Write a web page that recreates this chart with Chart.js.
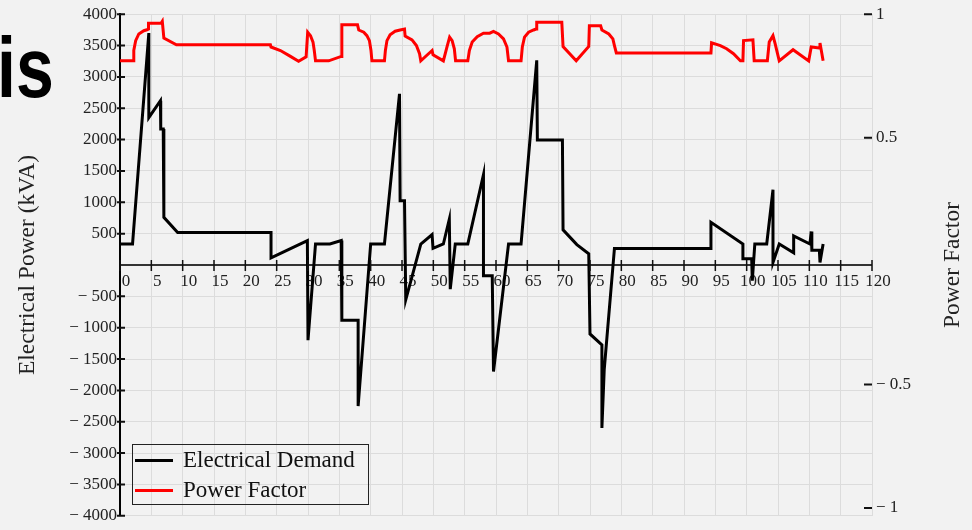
<!DOCTYPE html>
<html lang="en">
<head>
  <meta charset="UTF-8">
  <title>Electrical Demand and Power Factor</title>
  <script src="https://cdn.jsdelivr.net/npm/chart.js"></script>
  <style>
    body { margin: 0; background: #f2f2f2; }
    #wrap { position: relative; width: 972px; height: 530px; overflow: hidden; }
    #slideText { position: absolute; left: -3px; top: 25px; font: bold 85px "Liberation Sans", Arial, sans-serif; line-height: 1; color: #000; transform: scaleX(0.8); transform-origin: left top; }
    #legend { position: absolute; left: 132px; top: 444px; width: 235px; height: 59px; border: 1px solid #222; font: 23px "Liberation Serif", "Times New Roman", serif; color: #111; }
    #legend .row { height: 30px; display: flex; align-items: center; }
    #legend .swatch { width: 38px; height: 3px; margin-left: 2px; margin-right: 10px; }
  </style>
</head>
<body>
  <div id="wrap">
    <canvas id="chart"></canvas>
    <div id="slideText">is</div>
    <div id="legend"></div>
  </div>

  <script>
    // time axis (x) and values
    const demandTime = [0, 2.0, 4.6, 4.6, 6.45, 6.5, 6.9, 7.0, 9.2, 24.1, 24.1, 29.9, 30.0, 31.2, 33.5, 35.3, 35.4, 38.0, 38.0, 40.0,
      42.2, 44.6, 44.7, 45.4, 45.6, 48.0, 49.8, 49.95, 51.6, 52.55, 52.7, 53.5, 55.5, 58.0, 58.0, 59.4, 59.6, 62.0, 64.0, 66.5,
      66.6, 70.6, 70.7, 72.9, 74.8, 75.0, 76.9, 76.9, 77.27, 78.9, 94.3, 94.3, 99.4, 99.4, 100.8, 100.9, 101.3, 103.2, 104.2, 104.2,
      105.2, 107.5, 107.5, 110.1, 110.3, 110.4, 111.6, 111.7, 112.2];
    const demand = [335, 335, 3700, 2350, 2620, 2170, 2170, 760, 520, 520, 115, 390, -1200, 335, 335, 390, -880, -880, -2250, 335,
      335, 2730, 1025, 1025, -555, 335, 485, 265, 335, 730, -385, 335, 335, 1440, -170, -170, -1700, 335, 335, 3265,
      1995, 1995, 560, 325, 180, -1100, -1275, -2600, -1670, 265, 265, 680, 335, 100, 100, -250, 335, 335, 1200, 40,
      335, 195, 465, 335, 535, 235, 235, 40, 335];

    const pfTime = [0, 2.1, 2.2, 2.5, 3.0, 3.8, 4.3, 4.55, 4.55, 6.55, 6.75, 7.0, 9.0, 24.0, 24.1, 25.6, 27.2, 28.5, 29.7, 29.95,
      30.4, 30.8, 31.0, 31.2, 33.3, 35.3, 35.4, 37.9, 38.1, 38.9, 39.4, 39.8, 40.05, 40.2, 42.2, 42.35, 42.6, 43.1, 43.9, 44.7,
      45.4, 45.5, 46.6, 47.3, 47.8, 48.0, 49.8, 49.95, 51.6, 52.2, 52.6, 53.0, 53.35, 53.55, 55.5, 55.75, 56.2, 57.0, 58.0, 59.0,
      59.6, 60.4, 61.2, 61.75, 62.0, 64.0, 64.2, 64.55, 65.2, 66.0, 66.4, 66.5, 70.5, 70.7, 72.8, 74.8, 74.9, 76.7, 76.9, 78.0,
      78.65, 78.9, 79.2, 94.3, 94.4, 95.8, 96.8, 97.9, 99.0, 99.4, 99.5, 101.0, 101.2, 103.3, 103.6, 104.2, 104.55, 105.2, 107.4, 109.9,
      110.3, 111.6, 111.7, 112.2];
    const powerFactor = [0.811, 0.811, 0.853, 0.893, 0.92, 0.933, 0.937, 0.94, 0.963, 0.963, 0.971, 0.903, 0.876, 0.876, 0.867, 0.853, 0.829, 0.809, 0.827, 0.927,
      0.913, 0.887, 0.853, 0.811, 0.811, 0.829, 0.957, 0.957, 0.936, 0.927, 0.913, 0.893, 0.853, 0.811, 0.811, 0.853, 0.893, 0.917, 0.931, 0.936,
      0.94, 0.911, 0.896, 0.873, 0.84, 0.811, 0.853, 0.836, 0.811, 0.87, 0.907, 0.893, 0.86, 0.811, 0.811, 0.853, 0.887, 0.909, 0.923, 0.923,
      0.93, 0.92, 0.9, 0.867, 0.811, 0.811, 0.867, 0.907, 0.927, 0.936, 0.94, 0.967, 0.967, 0.869, 0.811, 0.869, 0.953, 0.953, 0.936, 0.92,
      0.9, 0.873, 0.843, 0.843, 0.884, 0.873, 0.86, 0.84, 0.811, 0.811, 0.893, 0.896, 0.811, 0.811, 0.887, 0.913, 0.88, 0.811, 0.856, 0.811,
      0.867, 0.863, 0.883, 0.811];

    const pfTicks = [-1, -0.5, 0.5, 1];
    const leftTitle = 'Electrical Power (kVA)';
    const rightTitle = 'Power Factor';

    const serif = '"Liberation Serif", "Times New Roman", serif';
    const gridColor = '#dcdcdc';

    function minusLabel(v) {
      if (v === 0) return '';
      return v < 0 ? '\u2212 ' + Math.abs(v) : String(v);
    }

    // tick marks that cross the axes, and the right-hand title read upwards
    const axisMarks = {
      id: 'axisMarks',
      afterDraw(chart) {
        const { ctx, chartArea, scales: { x, y, y2 } } = chart;
        const y0 = y.getPixelForValue(0);
        ctx.save();
        ctx.strokeStyle = '#111';
        ctx.lineWidth = 1.5;
        ctx.beginPath();
        x.ticks.forEach(t => {
          const px = x.getPixelForValue(t.value);
          ctx.moveTo(px, y0 - 5);
          ctx.lineTo(px, y0 + 6);
        });
        ctx.stroke();
        ctx.lineWidth = 2;
        ctx.beginPath();
        y.ticks.forEach(t => {
          if (t.value === 0) return;
          const py = y.getPixelForValue(t.value);
          ctx.moveTo(chartArea.left - 3, py);
          ctx.lineTo(chartArea.left + 5, py);
        });
        y2.ticks.forEach(t => {
          const py = y2.getPixelForValue(t.value);
          ctx.moveTo(chartArea.right - 8, py);
          ctx.lineTo(chartArea.right, py);
        });
        ctx.stroke();

        ctx.translate(953, (chartArea.top + chartArea.bottom) / 2);
        ctx.rotate(-Math.PI / 2);
        ctx.font = '23.5px ' + serif;
        ctx.fillStyle = '#222';
        ctx.textAlign = 'center';
        ctx.textBaseline = 'middle';
        ctx.fillText(rightTitle, 0, 0);
        ctx.restore();
      }
    };

    const chart = new Chart(document.getElementById('chart'), {
      type: 'line',
      data: {
        datasets: [{
          label: 'Electrical Demand',
          data: demandTime.map((t, i) => ({ x: t, y: demand[i] })),
          borderColor: '#000',
          borderWidth: 3,
          pointRadius: 0,
          tension: 0,
          yAxisID: 'y'
        }, {
          label: 'Power Factor',
          data: pfTime.map((t, i) => ({ x: t, y: powerFactor[i] })),
          borderColor: '#ff0000',
          borderWidth: 3,
          pointRadius: 0,
          tension: 0,
          yAxisID: 'y2'
        }]
      },
      options: {
        responsive: true,
        maintainAspectRatio: false,
        animation: false,
        layout: { padding: { top: 10, bottom: 12, left: 0, right: 0 } },
        plugins: {
          legend: { display: false },
          tooltip: { enabled: false }
        },
        scales: {
          x: {
            type: 'linear',
            min: 0,
            max: 120,
            position: { y: 0 },
            ticks: {
              stepSize: 5, autoSkip: false, maxRotation: 0, labelOffset: 6, padding: 6,
              color: '#222', font: { family: serif, size: 17 }
            },
            grid: { color: gridColor, drawTicks: false },
            border: { color: '#333', width: 2 }
          },
          y: {
            position: 'left',
            min: -4000,
            max: 4000,
            ticks: {
              stepSize: 500, padding: 3, color: '#222', font: { family: serif, size: 17 },
              callback: v => minusLabel(v)
            },
            grid: { color: gridColor, drawTicks: false },
            border: { color: '#000', width: 2 },
            title: { display: true, text: leftTitle, color: '#222', font: { family: serif, size: 23.5 }, padding: { top: 14, bottom: 0 } },
            afterFit: s => { s.width = 120; }
          },
          y2: {
            position: 'right',
            min: -1.032,
            max: 1,
            afterBuildTicks: s => { s.ticks = pfTicks.map(v => ({ value: v })); },
            ticks: {
              padding: 4, color: '#222', font: { family: serif, size: 17 },
              callback: v => minusLabel(v)
            },
            grid: { display: false, drawTicks: false },
            border: { color: gridColor, width: 1 },
            afterFit: s => { s.width = 100; }
          }
        }
      },
      plugins: [axisMarks]
    });

    // legend box drawn inside the plot, bottom left
    const legend = document.getElementById('legend');
    chart.data.datasets.forEach(ds => {
      const row = document.createElement('div');
      row.className = 'row';
      row.innerHTML = '<span class="swatch" style="background:' + ds.borderColor + '"></span>' + ds.label;
      legend.appendChild(row);
    });
  </script>
</body>
</html>
